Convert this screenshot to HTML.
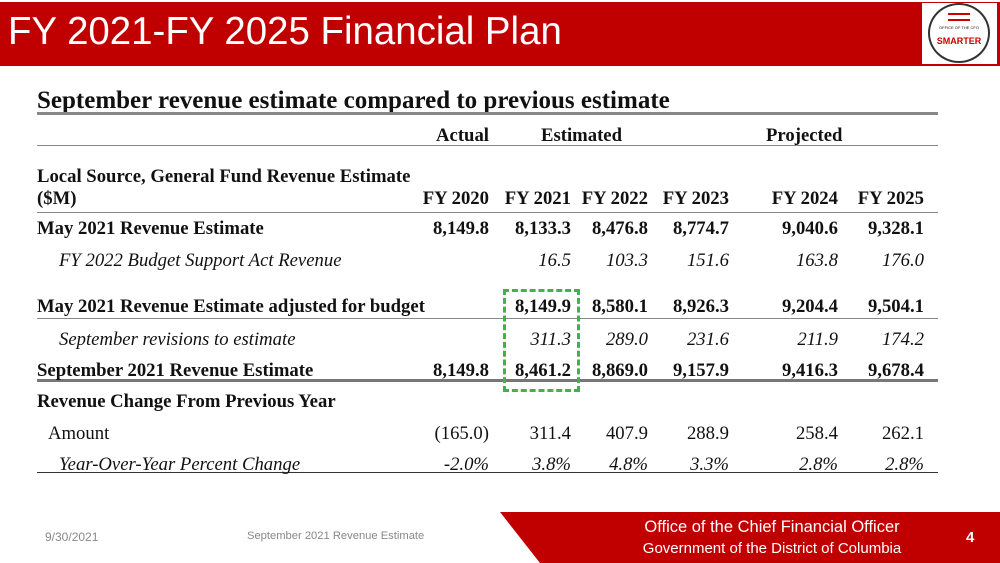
<!DOCTYPE html>
<html><head><meta charset="utf-8"><style>
body{margin:0;width:1000px;height:563px;position:relative;overflow:hidden;background:#fff;font-family:"Liberation Serif",serif;color:#111}
.a{position:absolute;white-space:nowrap}
.t{font-size:18.7px;line-height:20px}
.b{font-weight:bold}
.i{font-style:italic}
.r{text-align:right}
.ln{position:absolute;left:37px;width:901px;background:#888}
</style></head><body>
<div class="a" style="left:0;top:2px;width:1000px;height:64px;background:#c00000"></div>
<div class="a" style="left:8px;top:10px;font-family:'Liberation Sans',sans-serif;font-size:39px;color:#fff;transform:scaleX(0.985);transform-origin:left">FY 2021-FY 2025 Financial Plan</div>
<div class="a" style="left:922px;top:3px;width:75px;height:61px;background:#fff">
<div style="position:absolute;left:6px;top:0;width:62px;height:60px;border-radius:50%;border:2px solid #333;box-sizing:border-box;text-align:center;font-family:'Liberation Sans',sans-serif">
<div style="margin:8px auto 0;width:22px;height:4px;border-top:2px solid #c00;border-bottom:2px solid #c00"></div>
<div style="font-size:4px;margin-top:4px">OFFICE OF THE CFO</div>
<div style="font-size:9px;font-weight:bold;color:#c00;margin-top:6px">SMARTER</div></div></div>

<div class="a b" style="left:37px;top:87px;font-size:25px">September revenue estimate compared to previous estimate</div>
<div class="ln" style="top:112px;height:3px"></div>

<div class="a t b" style="left:380px;width:109px;top:126px"><div class="r">Actual</div></div>
<div class="a t b" style="left:541px;top:126px">Estimated</div>
<div class="a t b" style="left:766px;top:126px">Projected</div>
<div class="ln" style="top:145px;height:1px"></div>

<div class="a t b" style="left:37px;top:166px;line-height:22px">Local Source, General Fund Revenue Estimate<br>($M)</div>
<div class="ln" style="top:212px;height:1px"></div>
<div class="ln" style="top:318px;height:1px"></div>
<div class="ln" style="top:379px;height:3px;background:#777"></div>
<div class="ln" style="top:472px;height:1px;background:#333"></div>

<div class="a" style="left:503px;top:289px;width:71px;height:97px;border:3px dashed #3cb44b"></div>

<div id="rows"></div>

<div class="a" style="left:45px;top:530px;font-family:'Liberation Sans',sans-serif;font-size:12px;color:#888">9/30/2021</div>
<div class="a" style="left:247px;top:530px;font-family:'Liberation Sans',sans-serif;font-size:11.2px;color:#888">September 2021 Revenue Estimate</div>
<svg class="a" style="left:0;top:0" width="1000" height="563"><polygon points="500,512 1000,512 1000,563 540,563" fill="#c00000"/></svg>
<div class="a" style="left:597px;top:517px;width:350px;text-align:center;font-family:'Liberation Sans',sans-serif;color:#fff;font-size:16.5px;line-height:21px">Office of the Chief Financial Officer<br><span style="font-size:15px">Government of the District of Columbia</span></div>
<div class="a b" style="left:966px;top:529px;font-family:'Liberation Sans',sans-serif;color:#fff;font-size:15px">4</div>

<script>
const colRight=[489,571,648,729,838,924];
const rows=[
 {n:'row-years',y:189,label:'',cls:'b',vals:['FY 2020','FY 2021','FY 2022','FY 2023','FY 2024','FY 2025']},
 {n:'row-may-estimate',y:219,label:'May 2021 Revenue Estimate',cls:'b',indent:0,vals:['8,149.8','8,133.3','8,476.8','8,774.7','9,040.6','9,328.1']},
 {n:'row-bsa-revenue',y:251,label:'FY 2022 Budget Support Act Revenue',cls:'i',indent:22,vals:['','16.5','103.3','151.6','163.8','176.0']},
 {n:'row-may-adjusted',y:297,label:'May 2021 Revenue Estimate adjusted for budget',cls:'b',indent:0,vals:['','8,149.9','8,580.1','8,926.3','9,204.4','9,504.1']},
 {n:'row-sept-revisions',y:330,label:'September revisions to estimate',cls:'i',indent:22,vals:['','311.3','289.0','231.6','211.9','174.2']},
 {n:'row-sept-estimate',y:361,label:'September 2021 Revenue Estimate',cls:'b',indent:0,vals:['8,149.8','8,461.2','8,869.0','9,157.9','9,416.3','9,678.4']},
 {n:'row-change-header',y:392,label:'Revenue Change From Previous Year',cls:'b',indent:0,vals:['','','','','','']},
 {n:'row-amount',y:424,label:'Amount',cls:'',indent:11,vals:['(165.0)','311.4','407.9','288.9','258.4','262.1']},
 {n:'row-yoy-percent',y:455,label:'Year-Over-Year Percent Change',cls:'i',indent:22,vals:['-2.0%','3.8%','4.8%','3.3%','2.8%','2.8%']}
];
const host=document.getElementById('rows');
rows.forEach(r=>{
 if(r.label){const l=document.createElement('div');
  l.className='a t '+r.cls;l.style.left=(37+(r.indent||0))+'px';l.style.top=r.y+'px';l.textContent=r.label;
  
  
  host.appendChild(l);}
 r.vals.forEach((v,i)=>{if(!v)return;const c=document.createElement('div');
  c.className='a t r '+r.cls;c.style.left=(colRight[i]-90)+'px';c.style.width='90px';c.style.top=r.y+'px';c.textContent=v;
  
  
  host.appendChild(c);});
});
</script>
</body></html>
